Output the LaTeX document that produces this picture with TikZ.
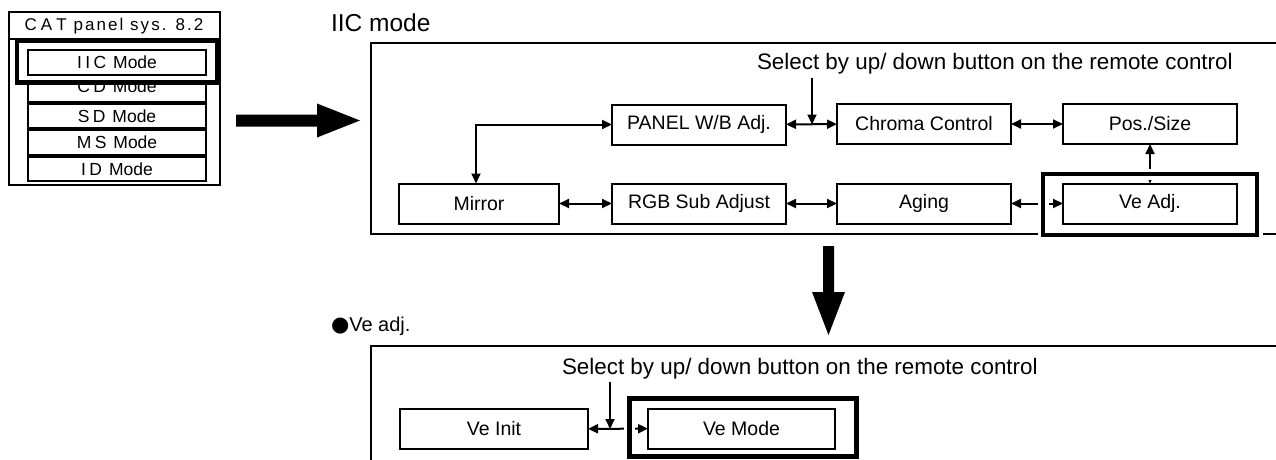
\documentclass[tikz,border=0pt]{standalone}
\usepackage{fontspec}
\setmainfont{Liberation Sans}
\newfontfamily\symbolfont{DejaVu Sans}
\usetikzlibrary{arrows.meta}

\tikzset{
  every node/.style={inner sep=0pt, outer sep=0pt},
  thinline/.style={line width=2pt},
  panelframe/.style={line width=2.3pt},
  stepbox/.style={draw, line width=2pt, minimum width=174pt, minimum height=40pt,
    font=\fontsize{19.5}{22}\selectfont},
  rowbox/.style={draw, line width=2pt, minimum width=178pt, minimum height=24.5pt,
    font=\fontsize{17.5}{20}\selectfont},
  menutitle/.style={font=\fontsize{17}{19}\selectfont\addfontfeatures{LetterSpace=12}},
  heading/.style={anchor=base west, font=\fontsize{24.5}{28}\selectfont},
  hint/.style={anchor=base west, font=\fontsize{22.4}{26}\selectfont},
  small/.style={anchor=base west, font=\fontsize{20}{24}\selectfont},
  tipA/.tip={Triangle[length=10pt,width=9pt]},
  link/.style={line width=2pt, tipA-tipA},
  pick/.style={line width=2pt, -tipA},
  bigarrow/.style={fill=black},
  halo/.style={draw=white, line width=11pt},
  hilite/.style={draw=black, line width=4.5pt},
}
\newcommand\catrow[2]{#1\kern3.4pt#2\kern7pt Mode}

\begin{document}
\begin{tikzpicture}[x=1pt,y=-1pt]
\useasboundingbox (0,0) rectangle (1276,460);
\fill[white] (0,0) rectangle (1276,460);

% ---- CAT menu ----
\draw[thinline] (9,12) rectangle (220,185);
\draw[thinline] (9,39) -- (220,39);
\node[menutitle] (cat) at (114,26) {C\kern4pt A\kern4pt T\kern7pt panel sys. 8.2};
\node[rowbox, text height=12pt, text depth=5pt] (cd) at (117,89.25) {\catrow{C}{D}};
\node[rowbox] (sd) at (117,115.9) {\catrow{S}{D}};
\node[rowbox] (ms) at (117,142.55) {\catrow{M}{S}};
\node[rowbox] (id) at (117,169.2) {\catrow{I}{D}};
\draw[hilite, fill=white] (17,40.5) rectangle (217,82.5);
\node[rowbox] (iic) at (117,62.6) {I\kern3.4pt\catrow{I}{C}};

% ---- arrow to the IIC mode chart ----
\coordinate (bigR) at (236,120.5);
\fill[bigarrow] (bigR) ++(0,-6) -- ++(81,0) -- ++(0,-11) -- ++(43,17)
  -- ++(-43,17) -- ++(0,-11) -- ++(-81,0) -- cycle;

% ---- IIC mode chart ----
\node[heading] (iictitle) at (331,32) {IIC mode};
\draw[panelframe] (1276,43) -| (371,234) -- (1276,234);
\node[hint] (selA) at (757,69.5) {Select by up/ down button on the remote control};

\node[stepbox] (panel) at (699,124.5) {PANEL W/B Adj.};
\node[stepbox] (chroma) at (924,124) {Chroma Control};
\node[stepbox] (pos) at (1150,124) {Pos./Size};
\node[stepbox, minimum width=160pt] (mirror) at (479,203.5) {Mirror};
\node[stepbox] (rgb) at (699,203.5) {RGB Sub Adjust};
\node[stepbox] (aging) at (924,203.5) {Aging};
\node[stepbox] (veadj) at (1150,203.5) {Ve Adj.};

\draw[link] (panel) -- (chroma);
\draw[link] (chroma) -- (pos);
\draw[link] (pos) -- (veadj);
\draw[link] (panel.west) -| ([xshift=-3pt]mirror.north);
\draw[link] (mirror) -- (rgb);
\draw[link] (rgb) -- (aging);
\draw[link] (aging) -- (veadj);
\coordinate (pickA) at (812,78);
\draw[pick] (pickA) -- (pickA |- panel.east);

\draw[halo] (1043,174) rectangle (1257,235);
\draw[hilite] (1043,174) rectangle (1257,235);

% ---- arrow to the Ve adj. chart ----
\coordinate (bigD) at (828.5,246);
\fill[bigarrow] (bigD) ++(-5.5,0) -- ++(0,46) -- ++(-11,0) -- ++(16.5,43)
  -- ++(16.5,-43) -- ++(-11,0) -- ++(0,-46) -- cycle;

% ---- Ve adj. chart ----
\node[small] (veadjtitle) at (331,331.7) {{\symbolfont\fontsize{21}{24}\selectfont ●}Ve adj.};
\draw[panelframe] (1276,346) -| (371,462);
\node[hint] (selB) at (562,374) {Select by up/ down button on the remote control};

\node[stepbox, minimum width=188pt] (veinit) at (494,429) {Ve Init};
\node[stepbox, minimum width=187pt] (vemode) at (741.5,428.5) {Ve Mode};

\draw[link] (veinit) -- (vemode);
\coordinate (pickB) at (610,382);
\draw[pick] (pickB) -- (pickB |- veinit.east);

\draw[halo] (629.5,398.5) rectangle (856.5,456.5);
\draw[hilite] (629.5,398.5) rectangle (856.5,456.5);
\end{tikzpicture}
\end{document}
